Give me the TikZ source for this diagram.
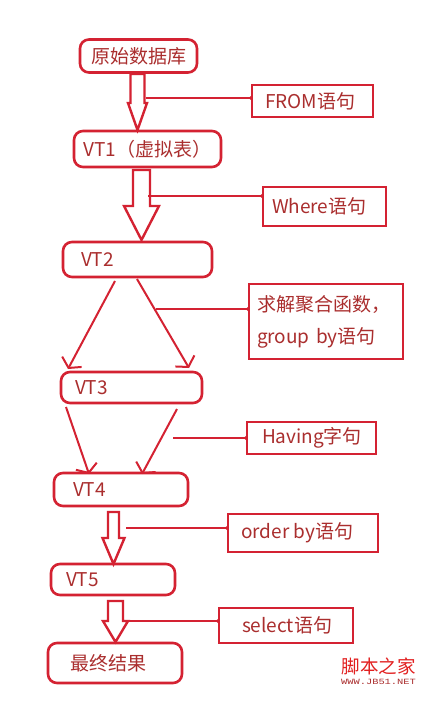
\documentclass[tikz,border=0pt]{standalone}
\usepackage{fontspec}
\setmainfont{Noto Sans CJK SC}
\newfontfamily\wmmono{Liberation Mono}
\usetikzlibrary{arrows.meta,calc}
\definecolor{lr}{RGB}{212,34,50}
\definecolor{tr}{RGB}{170,46,46}
\definecolor{wmred}{RGB}{226,32,32}
\newcommand{\lefttext}[2]{\makebox[#1pt][l]{#2}}
\newcommand{\blockarrow}[6]{% x, ytop, yshaftend, ytip, shafthalf, headhalf
  \draw[barrow] (#1-#5,#2) -- (#1-#5,#3) -- (#1-#6,#3) -- (#1,#4) -- (#1+#6,#3) -- (#1+#5,#3) -- (#1+#5,#2) -- cycle;}
\begin{document}
\begin{tikzpicture}[x=1pt,y=-1pt,
  rbox/.style={draw=lr,line width=2.6pt,rounded corners=9pt,fill=white,text=tr,
    font=\fontsize{19}{22}\selectfont,inner ysep=0pt},
  lbox/.style={draw=lr,line width=2.6pt,fill=white,text=tr,
    font=\fontsize{19}{22}\selectfont,inner ysep=0pt},
  barrow/.style={draw=lr,line width=2.4pt,fill=white,line join=miter},
  conn/.style={draw=lr,line width=2pt},
  thinarrow/.style={draw=lr,line width=2pt,-{Straight Barb[length=7pt,width=22pt,line width=2pt]}}]
\useasboundingbox[fill=white] (0,0) rectangle (439,708);

% main boxes
\node[rbox,minimum width=117,minimum height=33,inner xsep=0pt] (b0) at (138.5,56) {原始数据库};
\node[rbox,minimum width=147,minimum height=36,inner xsep=0pt] (b1) at (147.5,149) {VT1（虚拟表）};
\node[rbox,minimum height=35,inner xsep=18pt] (b2) at (137.5,259.5) {\lefttext{113}{VT2}};
\node[rbox,minimum height=31,inner xsep=14pt] (b3) at (131.5,387.5) {\lefttext{113}{VT3}};
\node[rbox,minimum height=33,inner xsep=19pt] (b4) at (121,489.5) {\lefttext{96}{VT4}};
\node[rbox,minimum height=31,inner xsep=15pt] (b5) at (113,579.5) {\lefttext{94}{VT5}};
\node[rbox,minimum height=40,inner xsep=22pt] (b6) at (115,663) {\lefttext{90}{最终结果}};

% label boxes
\node[lbox,minimum height=32,inner xsep=13pt] (l0) at (312.5,101) {\lefttext{95}{FROM语句}};
\node[lbox,minimum height=39,inner xsep=9pt] (l1) at (324.5,206.5) {\lefttext{105}{Where语句}};
\node[lbox,minimum height=75,inner xsep=8pt,text width=138pt,align=left,
  font=\fontsize{19}{32}\selectfont] (l2) at (326,321.5) {求解聚合函数，\\group by语句};
\node[lbox,minimum height=32,inner xsep=15pt] (l3) at (311.5,438) {\lefttext{99}{Having字句}};
\node[lbox,minimum height=38,inner xsep=13pt] (l4) at (303,533) {\lefttext{124}{order by语句}};
\node[lbox,minimum height=35,inner xsep=23pt] (l5) at (286,625.5) {\lefttext{88}{select语句}};

% block arrows
\blockarrow{137.5}{74}{103}{130}{7}{9.5}
\blockarrow{141.5}{170}{206}{240}{8.5}{17.5}
\blockarrow{113.5}{512}{538}{564}{5.5}{11}
\blockarrow{115.5}{601}{621}{642}{7.5}{12.5}

% connector start points
\coordinate (s0) at (146,98);
\coordinate (s1) at (148,196);
\coordinate (s2) at (156,309);
\coordinate (s3) at (173,438);
\coordinate (s4) at (126,528);
\coordinate (s5) at (128,621);
\foreach \s/\l in {s0/l0,s1/l1,s2/l2,s3/l3,s4/l4,s5/l5}{
  \draw[conn] (\s) -- (\s -| \l.west);
  \fill[lr] (\s -| \l.west) circle (1.8);
}

% thin arrows
\coordinate (a1s) at (115,281); \coordinate (a1e) at (68,369);
\coordinate (a2s) at (137,279); \coordinate (a2e) at (189,368);
\coordinate (a3s) at (66,407);  \coordinate (a3e) at (89,474);
\coordinate (a4s) at (177,409); \coordinate (a4e) at (142,474);
\draw[thinarrow] (a1s) -- (a1e);
\draw[thinarrow] (a2s) -- (a2e);
\draw[thinarrow] (a3s) -- (a3e);
\draw[thinarrow] (a4s) -- (a4e);

% watermark
\node[text=wmred,font=\fontsize{18.5}{20}\selectfont,inner sep=0pt] (wm) at (378.5,666) {脚本之家};
\node[text=tr,font=\wmmono\fontsize{8}{9}\selectfont,inner sep=0pt,xscale=1.3] (wm2) at (378.5,682) {WWW.JB51.NET};
\end{tikzpicture}
\end{document}
